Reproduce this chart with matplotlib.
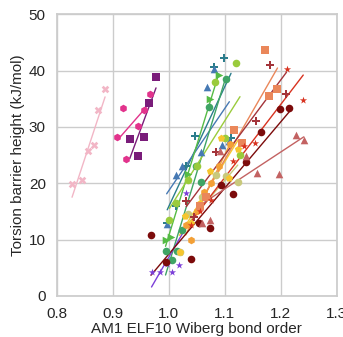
import numpy as np
import seaborn as sns
from matplotlib import pyplot as plt

sns.set_theme(style="whitegrid")
plt.rcParams["font.family"] = ["Liberation Sans", "DejaVu Sans"]

# one entry per molecule series: colour, marker, wiberg bond orders, barrier heights
names = ["pink", "hotpink", "purple", "teal", "steel", "green", "green_tri",
         "lightgreen", "khaki", "violet", "yellow", "orange", "salmon",
         "red", "brick", "darkred", "rosy"]

colors = {
    "pink": "#f2b6c6", "hotpink": "#e2338c", "purple": "#7a1c7a",
    "teal": "#2b7d8c", "steel": "#4679b3", "green": "#3fa465",
    "green_tri": "#55bb45", "lightgreen": "#9acb3c", "khaki": "#c9c97c",
    "violet": "#7c3fd8", "yellow": "#f6c62f", "orange": "#f3a036",
    "salmon": "#ea875a", "red": "#d8321f", "brick": "#a3343a",
    "darkred": "#7c0b0b", "rosy": "#c36262",
}

markers = {
    "pink": "X", "hotpink": "h", "purple": "s", "teal": "P", "steel": "^",
    "green": "o", "green_tri": ">", "lightgreen": "o", "khaki": "o",
    "violet": "*", "yellow": "p", "orange": "h", "salmon": "s", "red": "*",
    "brick": "P", "darkred": "o", "rosy": "^",
}

wbo = {
    "pink": [0.827, 0.845, 0.855, 0.866, 0.874, 0.886],
    "hotpink": [0.908, 0.918, 0.923, 0.944, 0.956, 0.967],
    "purple": [0.930, 0.945, 0.955, 0.964, 0.977],
    "teal": [0.997, 1.013, 1.030, 1.046, 1.081, 1.098, 1.111],
    "steel": [0.996, 1.013, 1.024, 1.057, 1.068, 1.081, 1.095, 1.108],
    "green": [0.994, 1.006, 1.015, 1.024, 1.049, 1.058, 1.071, 1.102],
    "green_tri": [0.994, 1.003, 1.034, 1.074, 1.089],
    "lightgreen": [1.001, 1.013, 1.034, 1.050, 1.083, 1.100, 1.119, 1.127],
    "khaki": [1.020, 1.035, 1.060, 1.085, 1.102, 1.123],
    "violet": [0.969, 0.984, 0.996, 1.006, 1.018, 1.031],
    "yellow": [1.019, 1.028, 1.040, 1.055, 1.074, 1.093, 1.108, 1.123],
    "orange": [1.030, 1.040, 1.050, 1.062, 1.075, 1.090, 1.110],
    "salmon": [1.055, 1.067, 1.116, 1.131, 1.171, 1.178, 1.194],
    "red": [1.040, 1.055, 1.075, 1.115, 1.134, 1.153, 1.211, 1.240],
    "brick": [1.031, 1.045, 1.084, 1.156, 1.180, 1.210],
    "darkred": [0.968, 0.994, 1.040, 1.054, 1.074, 1.093, 1.114, 1.138,
                1.164, 1.199, 1.215],
    "rosy": [1.059, 1.073, 1.092, 1.137, 1.157, 1.196, 1.227, 1.241],
}

barrier = {
    "pink": [19.9, 20.5, 25.8, 26.7, 33.0, 36.8],
    "hotpink": [28.2, 33.4, 24.3, 30.1, 33.0, 35.9],
    "purple": [27.8, 24.9, 28.2, 34.3, 38.9],
    "teal": [12.9, 16.0, 23.1, 28.3, 40.7, 42.2, 28.1],
    "steel": [12.8, 21.5, 23.0, 25.5, 37.0, 40.2, 26.7, 27.4],
    "green": [7.9, 6.4, 7.9, 11.7, 23.1, 20.2, 33.5, 38.5],
    "green_tri": [9.9, 10.4, 21.7, 34.9, 39.2],
    "lightgreen": [13.5, 16.5, 20.6, 23.0, 37.9, 28.0, 41.4, 25.0],
    "khaki": [7.8, 14.5, 17.5, 21.5, 21.2, 20.3],
    "violet": [4.3, 4.2, 5.6, 4.3, 5.5, 18.2],
    "yellow": [7.8, 14.1, 13.0, 16.5, 22.2, 28.1, 21.0, 26.0],
    "orange": [12.5, 10.0, 15.0, 18.5, 20.0, 23.0, 27.0],
    "salmon": [16.0, 17.6, 29.5, 27.2, 43.7, 35.4, 36.7],
    "red": [12.5, 15.0, 17.0, 24.0, 26.6, 27.1, 40.2, 34.8],
    "brick": [16.9, 14.0, 25.6, 31.1, 40.9, 35.8],
    "darkred": [10.8, 6.1, 6.6, 13.0, 12.1, 19.6, 18.0, 23.7, 29.0, 33.1, 33.3],
    "rosy": [13.0, 13.5, 25.8, 24.9, 21.8, 21.7, 28.6, 27.7],
}

fig, ax = plt.subplots(figsize=(3.43, 3.37), dpi=100)
fig.subplots_adjust(left=0.166, right=0.982, bottom=0.122, top=0.958)

for name in names:
    x = np.array(wbo[name])
    y = np.array(barrier[name])
    ax.scatter(x, y, color=colors[name], marker=markers[name], s=30,
               linewidths=0, zorder=3)
    slope, icept = np.polyfit(x, y, 1)
    xs = np.array([x.min(), x.max()])
    ax.plot(xs, slope * xs + icept, color=colors[name], lw=1.0, zorder=2)

ax.set_xlim(0.8, 1.3)
ax.set_ylim(0, 50)
ax.set_xticks([0.8, 0.9, 1.0, 1.1, 1.2, 1.3])
ax.set_yticks([0, 10, 20, 30, 40, 50])
ax.tick_params(labelsize=11, pad=2)
ax.set_xlabel("AM1 ELF10 Wiberg bond order", fontsize=11, labelpad=1)
ax.set_ylabel("Torsion barrier height (kJ/mol)", fontsize=11, labelpad=3)

plt.savefig("out.png", dpi=100)
